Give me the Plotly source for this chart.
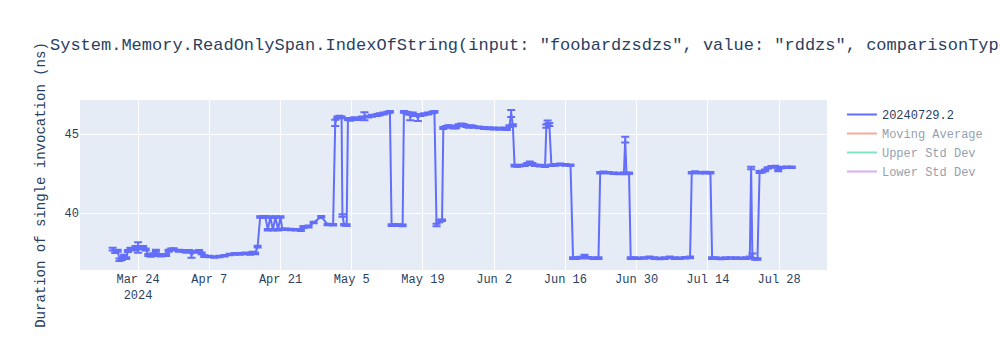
import pandas as pd
import plotly.graph_objects as go

title_text = 'System.Memory.ReadOnlySpan.IndexOfString(input: "foobardzsdzs", value: "rddzs", comparisonType: Ordinal)'
series_name = "20240729.2"
y_title = "Duration of single invocation (ns)"

dates = [
    # segment A
    "2024-03-19 00:00", "2024-03-19 12:00", "2024-03-20 00:00", "2024-03-20 08:00", "2024-03-20 20:00", "2024-03-21 06:00", "2024-03-21 16:00", "2024-03-22 00:00", "2024-03-22 12:00", "2024-03-23 00:00",
    "2024-03-23 12:00", "2024-03-24 00:00", "2024-03-24 12:00", "2024-03-25 00:00", "2024-03-25 12:00", "2024-03-26 00:00", "2024-03-26 12:00", "2024-03-27 00:00", "2024-03-27 12:00", "2024-03-28 00:00",
    "2024-03-28 12:00", "2024-03-29 12:00", "2024-03-30 00:00", "2024-03-30 12:00", "2024-03-31 00:00", "2024-04-01 00:00", "2024-04-02 00:00", "2024-04-02 12:00", "2024-04-03 00:00", "2024-04-03 12:00",
    "2024-04-04 00:00", "2024-04-05 00:00", "2024-04-05 12:00", "2024-04-06 00:00", "2024-04-07 00:00", "2024-04-08 00:00", "2024-04-09 00:00", "2024-04-10 00:00", "2024-04-11 00:00", "2024-04-12 00:00",
    "2024-04-13 00:00", "2024-04-14 00:00", "2024-04-15 00:00", "2024-04-15 12:00", "2024-04-16 00:00", "2024-04-16 12:00",
    # segment B
    "2024-04-17 00:00", "2024-04-17 12:00", "2024-04-18 00:00", "2024-04-18 12:00", "2024-04-19 00:00", "2024-04-19 12:00", "2024-04-20 00:00", "2024-04-20 12:00", "2024-04-21 00:00", "2024-04-21 08:00",
    "2024-04-22 00:00", "2024-04-23 00:00", "2024-04-24 00:00", "2024-04-25 00:00", "2024-04-25 12:00", "2024-04-26 12:00", "2024-04-27 12:00", "2024-04-29 00:00", "2024-04-30 06:00", "2024-05-01 08:00",
    # segment C
    "2024-05-01 18:00", "2024-05-02 04:00", "2024-05-02 14:00", "2024-05-03 00:00", "2024-05-03 04:00", "2024-05-03 12:00", "2024-05-04 00:00", "2024-05-04 06:00", "2024-05-04 18:00", "2024-05-05 12:00",
    "2024-05-06 06:00", "2024-05-07 00:00", "2024-05-07 12:00", "2024-05-08 06:00", "2024-05-09 00:00", "2024-05-10 00:00", "2024-05-10 12:00", "2024-05-11 06:00", "2024-05-12 00:00", "2024-05-12 12:00",
    "2024-05-12 20:00", "2024-05-13 12:00", "2024-05-14 06:00", "2024-05-15 00:00", "2024-05-15 06:00", "2024-05-15 18:00", "2024-05-16 06:00", "2024-05-16 12:00", "2024-05-17 00:00", "2024-05-17 12:00",
    "2024-05-18 00:00", "2024-05-18 12:00", "2024-05-19 06:00", "2024-05-20 00:00", "2024-05-20 18:00", "2024-05-21 06:00", "2024-05-21 16:00", "2024-05-22 06:00", "2024-05-22 18:00", "2024-05-23 00:00",
    # segment D
    "2024-05-23 12:00", "2024-05-24 00:00", "2024-05-24 12:00", "2024-05-25 00:00", "2024-05-25 12:00", "2024-05-26 00:00", "2024-05-26 12:00", "2024-05-27 00:00", "2024-05-27 12:00", "2024-05-28 00:00",
    "2024-05-28 12:00", "2024-05-29 00:00", "2024-05-30 00:00", "2024-05-31 00:00", "2024-06-01 00:00", "2024-06-02 00:00", "2024-06-03 00:00", "2024-06-04 00:00", "2024-06-04 12:00", "2024-06-05 00:00",
    "2024-06-05 08:00", "2024-06-05 16:00", "2024-06-06 00:00", "2024-06-06 12:00", "2024-06-07 00:00", "2024-06-08 00:00", "2024-06-08 12:00", "2024-06-09 00:00", "2024-06-09 12:00", "2024-06-10 00:00",
    "2024-06-11 00:00", "2024-06-12 00:00", "2024-06-12 06:00", "2024-06-12 12:00", "2024-06-12 20:00", "2024-06-13 06:00", "2024-06-14 00:00", "2024-06-15 00:00", "2024-06-16 00:00", "2024-06-17 00:00",
    # segment E
    "2024-06-17 12:00", "2024-06-18 00:00", "2024-06-19 00:00", "2024-06-19 18:00", "2024-06-20 12:00", "2024-06-21 12:00", "2024-06-22 12:00", "2024-06-22 20:00", "2024-06-23 12:00", "2024-06-24 12:00",
    "2024-06-25 12:00", "2024-06-26 12:00", "2024-06-27 12:00", "2024-06-27 18:00", "2024-06-28 00:00", "2024-06-28 12:00", "2024-06-28 20:00",
    # segment F
    "2024-06-29 12:00", "2024-06-30 12:00", "2024-07-01 12:00", "2024-07-02 12:00", "2024-07-03 12:00", "2024-07-04 12:00", "2024-07-05 12:00", "2024-07-06 12:00", "2024-07-07 12:00", "2024-07-08 12:00",
    "2024-07-09 12:00", "2024-07-10 12:00", "2024-07-10 20:00", "2024-07-11 12:00", "2024-07-12 12:00", "2024-07-13 12:00", "2024-07-14 12:00", "2024-07-14 20:00", "2024-07-15 12:00", "2024-07-16 12:00",
    "2024-07-17 12:00", "2024-07-18 12:00", "2024-07-19 12:00", "2024-07-20 12:00", "2024-07-21 12:00", "2024-07-22 06:00", "2024-07-22 12:00", "2024-07-22 18:00", "2024-07-23 06:00", "2024-07-23 18:00",
    "2024-07-24 04:00", "2024-07-24 16:00", "2024-07-25 06:00", "2024-07-25 18:00", "2024-07-26 12:00", "2024-07-27 06:00", "2024-07-27 20:00", "2024-07-28 12:00", "2024-07-29 12:00", "2024-07-30 12:00",
]

values = [
    # A
    37.72, 37.55, 37.62, 37.05, 37.10, 37.30, 37.15, 37.60, 37.75, 37.70,
    37.85, 37.82, 37.75, 37.85, 37.70, 37.35, 37.30, 37.40, 37.62, 37.35,
    37.32, 37.35, 37.62, 37.70, 37.72, 37.62, 37.60, 37.55, 37.60, 37.35,
    37.55, 37.60, 37.45, 37.28, 37.25, 37.22, 37.25, 37.30, 37.38, 37.42,
    37.42, 37.45, 37.42, 37.50, 37.45, 37.88,
    # B
    39.75, 39.75, 39.76, 38.95, 39.75, 38.95, 39.75, 38.95, 39.75, 38.98,
    38.98, 38.96, 38.95, 38.92, 39.12, 39.15, 39.40, 39.77, 39.28, 39.26,
    # C
    45.70, 46.05, 46.10, 46.05, 39.85, 39.26, 39.24, 45.95, 45.90, 46.00,
    45.95, 46.05, 46.12, 46.10, 46.15, 46.20, 46.25, 46.30, 46.35, 46.40,
    39.24, 39.25, 39.24, 39.22, 46.40, 46.35, 46.30, 46.05, 46.30, 46.20,
    46.00, 46.20, 46.25, 46.30, 46.35, 46.40, 39.24, 39.50, 39.55, 45.38,
    # D
    45.45, 45.50, 45.48, 45.40, 45.42, 45.55, 45.60, 45.58, 45.50, 45.46,
    45.50, 45.45, 45.42, 45.38, 45.36, 45.35, 45.33, 45.35, 45.32, 45.50,
    46.30, 45.55, 43.00, 42.98, 43.00, 43.02, 43.10, 43.20, 43.10, 43.02,
    43.00, 42.97, 45.50, 45.75, 45.60, 43.02, 43.05, 43.08, 43.05, 43.02,
    # E
    37.15, 37.15, 37.18, 37.30, 37.17, 37.15, 37.15, 42.55, 42.58, 42.55,
    42.52, 42.50, 42.52, 44.65, 42.50, 42.52, 37.15,
    # F
    37.15, 37.14, 37.16, 37.20, 37.15, 37.13, 37.15, 37.20, 37.15, 37.14,
    37.17, 37.20, 42.55, 42.60, 42.55, 42.56, 42.55, 37.15, 37.15, 37.13,
    37.15, 37.16, 37.15, 37.14, 37.15, 37.20, 42.85, 37.30, 37.10, 37.10,
    42.60, 42.62, 42.70, 42.85, 42.92, 42.95, 42.70, 42.88, 42.90, 42.90,
]

errors = [
    # A
    0.08, 0.08, 0.06, 0.08, 0.06, 0.06, 0.06, 0.06, 0.06, 0.06,
    0.06, 0.33, 0.06, 0.06, 0.06, 0.06, 0.06, 0.06, 0.06, 0.06,
    0.06, 0.06, 0.06, 0.06, 0.06, 0.06, 0.06, 0.06, 0.06, 0.18,
    0.06, 0.06, 0.06, 0.06, 0.05, 0.05, 0.05, 0.05, 0.05, 0.05,
    0.05, 0.05, 0.05, 0.05, 0.05, 0.06,
    # B
    0.05, 0.05, 0.05, 0.05, 0.05, 0.05, 0.05, 0.05, 0.05, 0.05,
    0.05, 0.05, 0.05, 0.05, 0.06, 0.06, 0.05, 0.05, 0.05, 0.05,
    # C
    0.20, 0.06, 0.06, 0.06, 0.08, 0.05, 0.05, 0.06, 0.06, 0.06,
    0.06, 0.06, 0.25, 0.06, 0.06, 0.06, 0.06, 0.06, 0.06, 0.06,
    0.05, 0.05, 0.05, 0.05, 0.06, 0.06, 0.06, 0.18, 0.06, 0.06,
    0.18, 0.06, 0.06, 0.06, 0.06, 0.06, 0.08, 0.08, 0.05, 0.06,
    # D
    0.06, 0.06, 0.06, 0.06, 0.06, 0.06, 0.06, 0.06, 0.06, 0.06,
    0.06, 0.06, 0.06, 0.06, 0.06, 0.06, 0.06, 0.06, 0.06, 0.06,
    0.22, 0.06, 0.05, 0.05, 0.05, 0.05, 0.06, 0.06, 0.06, 0.05,
    0.05, 0.05, 0.10, 0.10, 0.10, 0.05, 0.05, 0.05, 0.05, 0.05,
    # E
    0.05, 0.05, 0.05, 0.06, 0.05, 0.05, 0.05, 0.05, 0.05, 0.05,
    0.05, 0.05, 0.05, 0.18, 0.05, 0.05, 0.05,
    # F
    0.05, 0.05, 0.05, 0.05, 0.05, 0.05, 0.05, 0.05, 0.05, 0.05,
    0.05, 0.05, 0.05, 0.05, 0.05, 0.05, 0.05, 0.05, 0.05, 0.05,
    0.05, 0.05, 0.05, 0.05, 0.05, 0.05, 0.08, 0.15, 0.05, 0.05,
    0.06, 0.05, 0.05, 0.05, 0.05, 0.05, 0.06, 0.05, 0.05, 0.05,
]

assert len(dates) == len(values) == len(errors)

x_range = ["2024-03-12 14:00", "2024-08-06 10:00"]
y_range = [36.4, 47.15]

df = pd.DataFrame({"date": pd.to_datetime(dates), "value": values})
roll = df["value"].rolling(window=5, min_periods=1)
moving_avg = roll.mean()
moving_std = roll.std().fillna(0)

FONT = "Courier New, Courier, Liberation Mono, monospace"

fig = go.Figure()
fig.add_trace(go.Scatter(
    x=df["date"], y=df["value"], mode="lines", name=series_name,
    line=dict(color="#636efa", width=2),
    error_y=dict(type="data", array=errors, visible=True, color="#636efa", thickness=2, width=4),
))
fig.add_trace(go.Scatter(x=df["date"], y=moving_avg, mode="lines", name="Moving Average",
                         line=dict(color="#EF553B"), visible="legendonly"))
fig.add_trace(go.Scatter(x=df["date"], y=moving_avg + moving_std, mode="lines", name="Upper Std Dev",
                         line=dict(color="#00cc96"), visible="legendonly"))
fig.add_trace(go.Scatter(x=df["date"], y=moving_avg - moving_std, mode="lines", name="Lower Std Dev",
                         line=dict(color="#ab63fa"), visible="legendonly"))

fig.update_layout(
    width=1000, height=350,
    template="plotly",
    font=dict(family=FONT),
    title=dict(text=title_text),
    yaxis=dict(title=dict(text=y_title), range=y_range),
    xaxis=dict(range=x_range),
)

fig.write_html("out.html")
